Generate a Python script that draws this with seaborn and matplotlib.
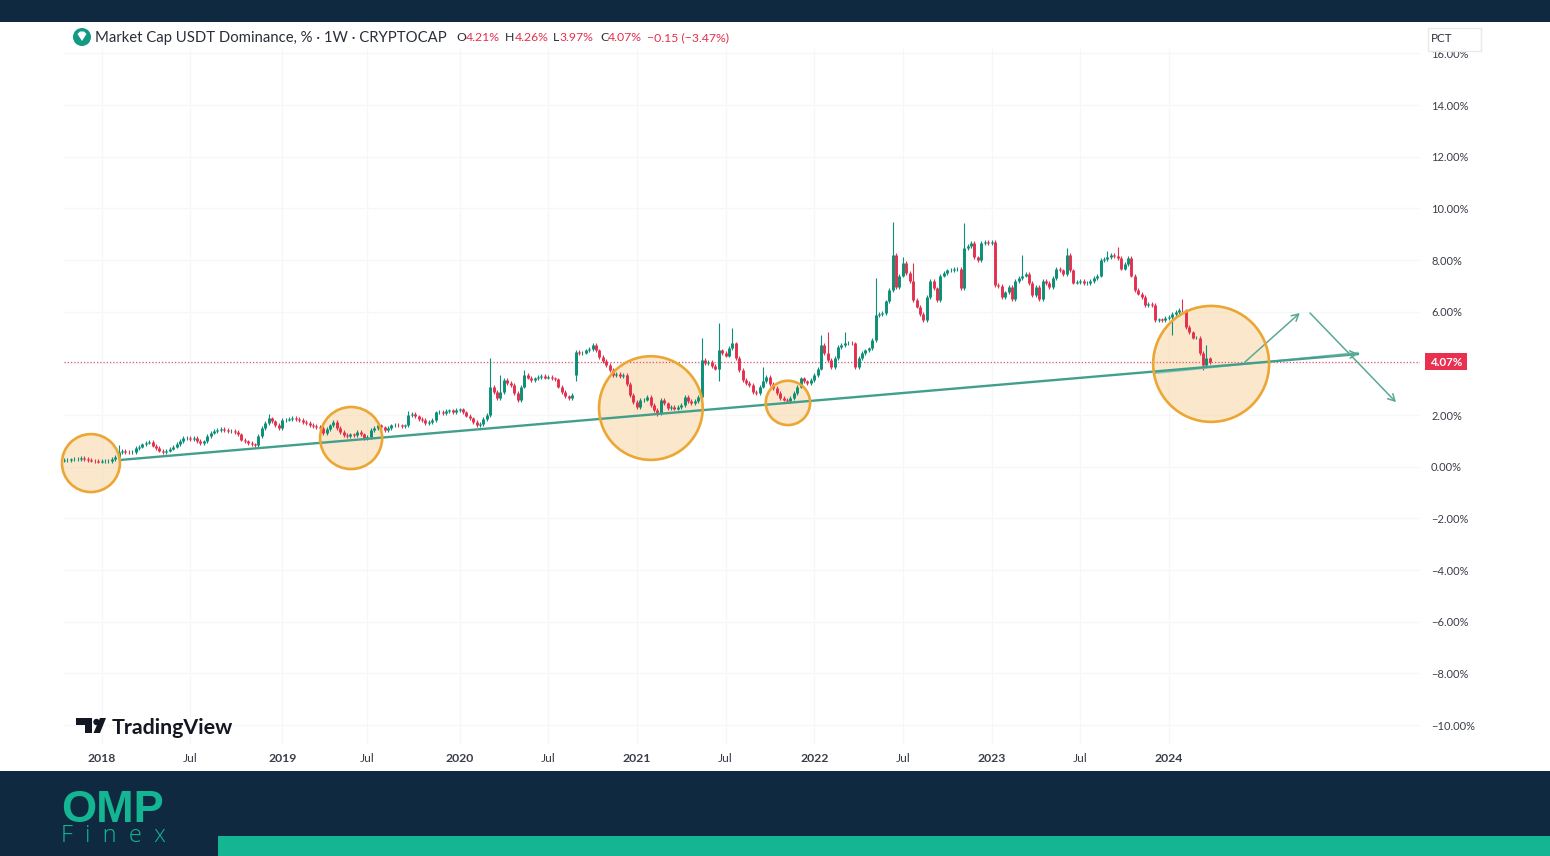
import numpy as np
import pandas as pd
import matplotlib.pyplot as plt
import seaborn as sns
from matplotlib.patches import Rectangle, Circle, Ellipse, Polygon
from matplotlib.transforms import Affine2D


# ===============================
# DATA
# ===============================
closes = [
    .25, .27, .28, .30, .31, .33, .30, .27, .24, .21,
    .20, .21, .22, .22, .30, .38, .55, .60, .58, .57,
    .58, .72, .78, .86, .93, .95, .82, .72, .62, .56,
    .62, .70, .78, .88, 1.0, 1.1, 1.12, 1.08, 1.1, 1.0,
    .9, .98, 1.2, 1.32, 1.38, 1.42, 1.46, 1.42, 1.38, 1.4,
    1.35, 1.25, 1.05, .98, .92, .86, .84, 1.2, 1.5, 1.7,
    1.87, 1.75, 1.62, 1.5, 1.8, 1.82, 1.85, 1.88, 1.84, 1.8,
    1.72, 1.68, 1.62, 1.58, 1.53, 1.5, 1.3, 1.45, 1.6, 1.73,
    1.5, 1.35, 1.22, 1.2, 1.25, 1.22, 1.35, 1.25, 1.1, 1.15,
    1.42, 1.5, 1.6, 1.52, 1.42, 1.5, 1.6, 1.62, 1.6, 1.58,
    1.6, 2.0, 2.05, 1.95, 1.85, 1.8, 1.68, 1.72, 1.8, 2.1,
    2.12, 2.08, 2.15, 2.18, 2.12, 2.2, 2.22, 2.1, 1.98, 1.87,
    1.72, 1.6, 1.65, 1.85, 2.0, 3.1, 2.9, 2.65, 2.9, 3.35,
    3.25, 3.16, 2.85, 2.58, 3.1, 3.55, 3.45, 3.35, 3.42, 3.47,
    3.5, 3.45, 3.48, 3.42, 3.38, 3.1, 2.9, 2.72, 2.65, 2.77,
    4.45, 4.4, 4.42, 4.5, 4.55, 4.7, 4.5, 4.25, 4.1, 3.93,
    3.75, 3.55, 3.6, 3.5, 3.55, 3.2, 2.77, 2.5, 2.3, 2.58,
    2.6, 2.7, 2.4, 2.2, 2.07, 2.58, 2.45, 2.27, 2.3, 2.25,
    2.3, 2.4, 2.7, 2.55, 2.45, 2.55, 2.7, 4.13, 4.0, 4.05,
    3.9, 3.8, 4.5, 4.4, 4.3, 4.6, 4.77, 4.2, 3.75, 3.35,
    3.25, 3.16, 2.9, 2.85, 3.1, 3.3, 3.47, 3.2, 3.04, 2.85,
    2.65, 2.6, 2.55, 2.65, 2.85, 3.1, 3.42, 3.3, 3.23, 3.35,
    3.55, 3.8, 4.7, 4.4, 4.13, 3.85, 4.2, 4.63, 4.7, 4.77,
    4.8, 4.77, 3.85, 4.2, 4.4, 4.5, 4.58, 4.9, 5.87, 5.9,
    5.95, 6.4, 6.83, 8.2, 6.95, 7.4, 7.88, 7.5, 7.2, 6.45,
    6.2, 5.9, 5.67, 6.57, 7.2, 6.9, 6.45, 7.4, 7.5, 7.6,
    7.62, 7.65, 7.67, 6.9, 8.47, 8.55, 8.65, 8.1, 8.0, 8.65,
    8.7, 8.65, 8.7, 7.03, 7.0, 6.57, 6.75, 6.95, 6.5, 7.2,
    7.3, 7.4, 7.47, 7.1, 6.63, 6.95, 6.5, 7.2, 7.1, 6.95,
    7.3, 7.67, 7.6, 7.47, 8.2, 7.6, 7.13, 7.15, 7.2, 7.1,
    7.1, 7.2, 7.3, 7.4, 8.0, 8.05, 8.1, 8.2, 8.15, 8.07,
    7.67, 7.85, 8.07, 7.4, 6.83, 6.7, 6.57, 6.25, 6.3, 6.25,
    5.67, 5.7, 5.67, 5.75, 5.8, 5.9, 6.0, 6.07, 6.05, 5.4,
    5.2, 5.0, 5.0, 4.4, 3.93, 4.21, 4.07,
]

# opens are the previous close, except where the chart shows a gap
gap_opens = {0: .24, 150: 3.55}

# wicks that stand out; every other candle only has a short one
long_highs = {16: .85, 60: 2.05, 101: 2.15, 125: 4.2, 128: 3.55, 135: 3.75, 187: 5.0,
              192: 5.55, 196: 5.36, 205: 3.85, 222: 5.1, 224: 5.2, 229: 5.2, 238: 7.3,
              243: 9.47, 246: 8.1, 249: 7.9, 264: 9.43, 281: 8.2, 294: 8.45, 306: 8.35,
              309: 8.5, 328: 6.5, 335: 4.7, 336: 4.26}
long_lows = {150: 3.3, 174: 1.95, 192: 3.3, 325: 5.1, 334: 3.75, 336: 3.97}
short_wick = .07

last_price = 4.07

y_ticks = [16, 14, 12, 10, 8, 6, 4, 2, 0, -2, -4, -6, -8, -10]
x_tick_weeks = [11, 37, 64, 89, 116, 142, 168, 194, 220, 246, 272, 298, 324]
x_tick_labels = ["2018", "Jul", "2019", "Jul", "2020", "Jul", "2021", "Jul", "2022", "Jul", "2023", "Jul", "2024"]

# orange circles: week, price, radius in weeks
circle_weeks = [7.9, 84.2, 172.1, 212.3, 336.4]
circle_prices = [.14, 1.11, 2.27, 2.47, 3.98]
circle_radii = [8.5, 9.1, 15.2, 6.5, 17.0]

trend_weeks = [16.4, 379.5]
trend_prices = [.26, 4.36]
trend2_weeks = [320, 379.5]
trend2_prices = [3.62, 4.42]

arrow_up = ((346.3, 4.05), (362.4, 5.95))
arrow_down = ((365.4, 5.95), (390.6, 2.5))
arrow_trend = ((370, 4.27), (379.5, 4.37))

UP = "#0b8f76"
DOWN = "#e2304f"
TEAL = "#429f8b"
NAVY = "#0f2a40"
BRAND = "#14b592"
INK = "#2a2e39"

WIDTH, HEIGHT = 1550, 856
LEFT, RIGHT, TOP, BOTTOM = 64, 1420, 48, 745
ZERO_Y = 466.7
PX_PER_PCT = 25.83
PX_PER_WEEK = 3.41


# ===============================
# CANDLE TABLES
# ===============================
weeks = np.arange(len(closes))
opens = [gap_opens.get(i, closes[i - 1]) for i in weeks]
direction = ["up" if c >= o else "down" for o, c in zip(opens, closes)]

body_rows = []
wick_rows = []
for i in weeks:
    o, c = opens[i], closes[i]
    high = long_highs.get(i, max(o, c) + short_wick)
    low = long_lows.get(i, min(o, c) - short_wick)
    for price in (o, c):
        body_rows.append((i, price, direction[i]))
    for price in (low, high):
        wick_rows.append((i, price, direction[i]))

bodies = pd.DataFrame(body_rows, columns=["week", "price", "direction"])
wicks = pd.DataFrame(wick_rows, columns=["week", "price", "direction"])


# ===============================
# FIGURE
# ===============================
sns.set_theme(style="white")
plt.rcParams["font.family"] = ["Lato", "DejaVu Sans"]

fig = plt.figure(figsize=(WIDTH / 100, HEIGHT / 100), dpi=100, facecolor="white")
ax = fig.add_axes([LEFT / WIDTH, 1 - BOTTOM / HEIGHT, (RIGHT - LEFT) / WIDTH, (BOTTOM - TOP) / HEIGHT])
ax.set_facecolor("white")

# pixel coordinates of the picture, y going down
px = Affine2D().scale(1, -1).translate(0, HEIGHT)

palette = {"up": UP, "down": DOWN}
sns.lineplot(data=wicks, x="week", y="price", units="week", hue="direction", palette=palette,
             estimator=None, legend=False, linewidth=0.8, solid_capstyle="butt", ax=ax, zorder=3)
sns.lineplot(data=bodies, x="week", y="price", units="week", hue="direction", palette=palette,
             estimator=None, legend=False, linewidth=2.1, solid_capstyle="butt", ax=ax, zorder=3)

ax.axhline(last_price, color="#e2566f", lw=0.9, ls=(0, (1, 1.6)), zorder=2)

# trend lines and arrows
trend = pd.DataFrame({"week": trend_weeks, "price": trend_prices})
trend2 = pd.DataFrame({"week": trend2_weeks, "price": trend2_prices})
sns.lineplot(data=trend2, x="week", y="price", color="#8cc7b8", linewidth=1.2, ax=ax, zorder=4)
sns.lineplot(data=trend, x="week", y="price", color=TEAL, linewidth=1.7, ax=ax, zorder=4)

for start, end in (arrow_up, arrow_down, arrow_trend):
    ax.annotate("", xy=end, xytext=start, zorder=5,
                arrowprops=dict(arrowstyle="->,head_length=0.4,head_width=0.22", color="#5aa898", lw=1.1,
                                shrinkA=0, shrinkB=0))

# highlight circles, fill under the candles and rim on top
for w, p, r in zip(circle_weeks, circle_prices, circle_radii):
    ax.add_patch(Ellipse((w, p), 2 * r, 2 * r * PX_PER_WEEK / PX_PER_PCT, facecolor="#f7d5a3", alpha=0.55,
                         edgecolor="none", zorder=1.5, clip_on=False))
    ax.add_patch(Ellipse((w, p), 2 * r, 2 * r * PX_PER_WEEK / PX_PER_PCT, facecolor="none",
                         edgecolor="#eba634", lw=1.9, zorder=6, clip_on=False))

# scales
ax.set_xlim(0, (RIGHT - LEFT) / PX_PER_WEEK)
ax.set_ylim((ZERO_Y - BOTTOM) / PX_PER_PCT, (ZERO_Y - TOP) / PX_PER_PCT)
ax.set_xlabel("")
ax.set_ylabel("")
ax.yaxis.tick_right()
ax.set_yticks(y_ticks)
ax.set_yticklabels([f"{v:.2f}%".replace("-", "\u2212") for v in y_ticks], fontsize=8.0, color="#3a3e49")
ax.set_xticks(x_tick_weeks)
ax.set_xticklabels(x_tick_labels, fontsize=8.8, color="#3a3e49")
for tick, name in zip(ax.get_xticklabels(), x_tick_labels):
    if name != "Jul":
        tick.set_fontweight("bold")
ax.tick_params(axis="both", length=0)
ax.tick_params(axis="y", pad=8)
ax.tick_params(axis="x", pad=6)
ax.grid(True, color="#f6f7f8", lw=0.9)
ax.set_axisbelow(True)
sns.despine(ax=ax, left=True, bottom=True, right=True, top=True)


# ===============================
# HEADER AND BRANDING
# ===============================
# white strip hides the top of the 16.00% label, as in the screenshot
fig.add_artist(Rectangle((1420, 22), 130, 29, transform=px, facecolor="white", edgecolor="none", zorder=1))
fig.add_artist(Rectangle((0, 0), WIDTH, 22, transform=px, facecolor=NAVY, edgecolor="none", zorder=1))
fig.add_artist(Rectangle((0, 771), WIDTH, 85, transform=px, facecolor=NAVY, edgecolor="none", zorder=1))
fig.add_artist(Rectangle((218, 836), WIDTH - 218, 20, transform=px, facecolor=BRAND, edgecolor="none", zorder=2))

fig.add_artist(Circle((82, 37), 9, transform=px, facecolor="#139a84", edgecolor="none", zorder=2))
fig.add_artist(Polygon([(77.5, 34), (80, 31.5), (84, 31.5), (86.5, 34), (82, 41)], transform=px,
                       facecolor="white", edgecolor="none", zorder=3))
fig.text(95, 38, "Market Cap USDT Dominance, % \u00b7 1W \u00b7 CRYPTOCAP", transform=px, fontsize=10.75,
         color=INK, va="center", ha="left", zorder=3)

ohlc_parts = [("O", 456, INK), ("4.21%", 466, DOWN), ("H", 505, INK), ("4.26%", 515, DOWN),
              ("L", 553, INK), ("3.97%", 560, DOWN), ("C", 600, INK), ("4.07%", 608, DOWN),
              ("\u22120.15 (\u22123.47%)", 647, DOWN)]
for label, x_pos, colour in ohlc_parts:
    fig.text(x_pos, 37.5, label, transform=px, fontsize=8.8, color=colour, va="center", ha="left", zorder=3)

fig.add_artist(Rectangle((1427.5, 27.5), 53, 23, transform=px, facecolor="white", edgecolor="#e9e9ec", lw=1, zorder=2))
fig.text(1431, 38.5, "PCT", transform=px, fontsize=8.4, color=INK, va="center", ha="left", zorder=3)

# last price tag
fig.add_artist(Rectangle((1425, 353), 42, 17, transform=px, facecolor="#e8304f", edgecolor="none", zorder=2))
fig.text(1447, 362, f"{last_price:.2f}%", transform=px, fontsize=8.4, fontweight="bold", color="white",
         va="center", ha="center", zorder=3)

# TradingView mark
tv_color = "#131722"
fig.add_artist(Polygon([(76, 718), (92, 718), (92, 733), (85, 733), (85, 725), (76, 725)], transform=px,
                       facecolor=tv_color, edgecolor="none", zorder=2))
fig.add_artist(Circle((96.5, 722), 3.2, transform=px, facecolor=tv_color, edgecolor="none", zorder=2))
fig.add_artist(Polygon([(100, 718), (106, 718), (100, 733), (93.5, 733)], transform=px, facecolor=tv_color,
                       edgecolor="none", zorder=2))
fig.text(112, 727.5, "TradingView", transform=px, fontsize=15.4, fontweight="bold", color=tv_color,
         va="center", ha="left", zorder=3)

# OMP Finex logo
fig.text(61, 822, "OMP", transform=px, fontsize=32.5, fontweight="bold", family="Liberation Sans", color=BRAND,
         va="baseline", ha="left", zorder=3)
fig.text(61, 842, "F  i  n  e  x", transform=px, fontsize=17, fontweight="light", family="Open Sans", color=BRAND,
         va="baseline", ha="left", zorder=3)

plt.savefig("out.png", dpi=100)
